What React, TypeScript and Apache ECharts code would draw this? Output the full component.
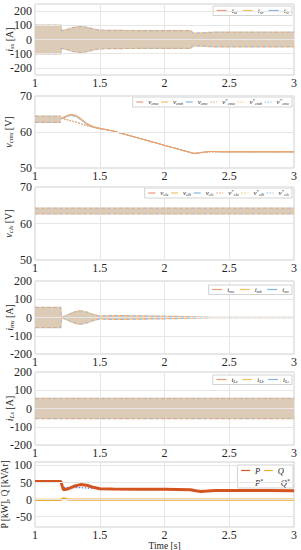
import React, { useEffect, useRef } from "react";
import * as echarts from "echarts";

// ---------------- data ----------------
const xTickValues = [1, 1.5, 2, 2.5, 3];

// panel 1: grid currents envelope
const isTime = [1.0, 1.2, 1.205, 1.25, 1.3, 1.35, 1.4, 1.45, 1.5, 1.6, 1.8, 2.0, 2.2, 2.225, 2.3, 2.4, 2.6, 3.0];
const isUpper = [102, 102, 62, 72, 86, 92, 86, 74, 66, 64, 63, 62, 62, 45, 48, 52, 52, 52];
const isLower = [-102, -102, -62, -72, -86, -92, -86, -74, -66, -64, -63, -62, -62, -45, -48, -52, -52, -52];
const isTicks = [-200, -100, 0, 100, 200];

// panel 2: capacitor voltages (upper arm)
const vcmBandTime = [1.0, 1.2];
const vcmBandLower = [62.7, 62.7];
const vcmBandUpper = [64.4, 64.4];
const vcmTime = [1.2, 1.25, 1.28, 1.32, 1.36, 1.4, 1.45, 1.5, 1.6, 1.8, 2.0, 2.2, 2.23, 2.27, 2.35, 2.45, 2.7, 3.0];
const vcmA = [63.8, 64.6, 64.9, 64.6, 63.6, 62.4, 61.5, 61.0, 60.3, 58.3, 56.3, 54.3, 54.0, 54.2, 54.6, 54.5, 54.5, 54.5];
const vcmB = [63.7, 64.5, 64.8, 64.4, 63.4, 62.2, 61.4, 61.0, 60.3, 58.3, 56.3, 54.3, 54.0, 54.2, 54.6, 54.5, 54.5, 54.5];
const vcmC = [63.6, 64.3, 64.6, 64.2, 63.2, 62.1, 61.3, 60.9, 60.3, 58.3, 56.3, 54.3, 54.0, 54.2, 54.6, 54.5, 54.5, 54.5];
const vcmRef = [63.8, 63.4, 63.1, 62.7, 62.2, 61.8, 61.3, 61.0, 60.3, 58.3, 56.3, 54.3, 54.1, 54.3, 54.5, 54.5, 54.5, 54.5];
const vTicks = [50, 60, 70];

// panel 3: capacitor voltages (lower arm)
const vclTime = [1.0, 3.0];
const vclLower = [62.6, 62.6];
const vclUpper = [64.2, 64.2];

// panel 4: circulating currents envelope
const imTime = [1.0, 1.2, 1.205, 1.23, 1.28, 1.33, 1.36, 1.4, 1.45, 1.5, 1.55, 1.6, 1.7, 1.8, 1.9, 2.0, 2.1, 2.2, 2.3, 2.4, 3.0];
const imUpper = [55, 55, 2, 8, 24, 36, 37, 30, 17, 8, 9, 11, 10, 9, 8, 7, 6, 4, 2, 0.8, 0.5];
const imLower = [-55, -55, -2, -8, -24, -36, -37, -30, -17, -8, -9, -11, -10, -9, -8, -7, -6, -4, -2, -0.8, -0.5];
const iTicks = [-200, -100, 0, 100, 200];

// panel 5: load currents envelope
const ilTime = [1.0, 3.0];
const ilUpper = [55, 55];
const ilLower = [-55, -55];

// panel 6: powers
const pqTime = [1.0, 1.2, 1.21, 1.22, 1.25, 1.3, 1.35, 1.4, 1.45, 1.5, 1.6, 1.8, 2.0, 2.2, 2.24, 2.28, 2.33, 2.4, 2.6, 2.8, 3.0];
const pVals = [53, 53, 40, 29, 31, 39, 44, 42, 36, 32, 31, 30, 30, 29, 26, 24, 25, 27, 27, 27, 26];
const pRef = [53, 53, 38, 36, 35, 35, 35, 34, 33, 32, 31, 30, 30, 29, 27, 25, 25, 27, 27, 27, 26];
const qVals = [-1, -1, 2, 4, 1, 0, 0, 0, 0, 0, 0, 0, 0, 0, 0, 0, 0, 0, 0, 0, 0];
const qRef = [0, 0, 0, 0, 0, 0, 0, 0, 0, 0, 0, 0, 0, 0, 0, 0, 0, 0, 0, 0, 0];
const pqTicks = [-50, 0, 50, 100];

// ---------------- styling ----------------
const FONT = "'Liberation Serif', 'DejaVu Serif', 'Times New Roman', serif";
const PHASE = ["#efa286", "#f3cb7c", "#8fbfe7"];
const LINE_PHASE = ["#ec9a76", "#f0c264", "#82b6e4"];
const BAND = "#dccbb6";
const GRIDLINE = "#e6e6e6";
const TEXT = "#262626";

const legendLabels: Record<string, string> = {
  isa: "{m|i}{s|s}{ss|a}",
  isb: "{m|i}{s|s}{ss|b}",
  isc: "{m|i}{s|s}{ss|c}",
  vcma: "{m|v}{s|cm}{ss|a}",
  vcmb: "{m|v}{s|cm}{ss|b}",
  vcmc: "{m|v}{s|cm}{ss|c}",
  vcmra: "{m|v}{sup|*}{s|cm}{ss|a}",
  vcmrb: "{m|v}{sup|*}{s|cm}{ss|b}",
  vcmrc: "{m|v}{sup|*}{s|cm}{ss|c}",
  vcla: "{m|v}{s|cl}{ss|a}",
  vclb: "{m|v}{s|cl}{ss|b}",
  vclc: "{m|v}{s|cl}{ss|c}",
  vclra: "{m|v}{sup|*}{s|cl}{ss|a}",
  vclrb: "{m|v}{sup|*}{s|cl}{ss|b}",
  vclrc: "{m|v}{sup|*}{s|cl}{ss|c}",
  ima: "{m|i}{s|m}{ss|a}",
  imb: "{m|i}{s|m}{ss|b}",
  imc: "{m|i}{s|m}{ss|c}",
  ila: "{m|i}{s|L}{ss|a}",
  ilb: "{m|i}{s|L}{ss|b}",
  ilc: "{m|i}{s|L}{ss|c}",
  P: "{m|P}",
  Q: "{m|Q}",
  Pref: "{m|P}{sup|*}",
  Qref: "{m|Q}{sup|*}",
};

const legendRich = {
  m: { fontFamily: FONT, fontSize: 7, fontStyle: "italic", lineHeight: 8, color: TEXT },
  s: { fontFamily: FONT, fontSize: 4.5, fontStyle: "italic", lineHeight: 4, verticalAlign: "bottom", color: TEXT },
  ss: { fontFamily: FONT, fontSize: 3.5, fontStyle: "italic", lineHeight: 2, verticalAlign: "bottom", color: TEXT },
  sup: { fontFamily: FONT, fontSize: 5, lineHeight: 4, verticalAlign: "top", color: TEXT },
};

const legendRichBig = {
  m: { fontFamily: FONT, fontSize: 8.5, fontStyle: "italic", lineHeight: 9, color: TEXT },
  sup: { fontFamily: FONT, fontSize: 6, lineHeight: 4, verticalAlign: "top", color: TEXT },
};

const nameRich = {
  m: { fontFamily: FONT, fontSize: 10, fontStyle: "italic", lineHeight: 12, color: TEXT },
  s: { fontFamily: FONT, fontSize: 7, fontStyle: "italic", lineHeight: 6, verticalAlign: "bottom", color: TEXT },
  ss: { fontFamily: FONT, fontSize: 5.5, fontStyle: "italic", lineHeight: 3, verticalAlign: "bottom", color: TEXT },
  n: { fontFamily: FONT, fontSize: 10, lineHeight: 12, color: TEXT },
  p: { fontFamily: FONT, fontSize: 9.5, lineHeight: 12, color: TEXT },
};

const pairs = (t: number[], v: number[]) => t.map((x, i) => [x, v[i]]);

// filled envelope band drawn as a polygon through the axes' scales
function bandSeries(idx: number, t: number[], lo: number[], hi: number[]) {
  return {
    type: "custom", xAxisIndex: idx, yAxisIndex: idx, silent: true, z: 2, clip: true,
    data: t.map((x, i) => [x, lo[i], hi[i]]),
    encode: { x: 0, y: [1, 2] },
    renderItem: (params: any, api: any) => {
      if (params.dataIndex !== 0) return null;
      const top = t.map((x, i) => api.coord([x, hi[i]]));
      const bot = t.map((x, i) => api.coord([x, lo[i]])).reverse();
      return { type: "polygon", shape: { points: [...top, ...bot] }, style: { fill: BAND } };
    },
  };
}

function edgeSeries(idx: number, t: number[], lo: number[], hi: number[], names: string[]) {
  const out: any[] = [];
  names.forEach((n, k) => {
    [lo, hi].forEach((arr) =>
      out.push({
        type: "line", name: n, xAxisIndex: idx, yAxisIndex: idx, data: pairs(t, arr), symbol: "none", silent: true, z: 3,
        itemStyle: { color: PHASE[k] },
        lineStyle: { color: PHASE[k], width: 1.2, type: [2, 4], dashOffset: k * 2 },
      })
    );
  });
  return out;
}

function gridLineSeries(idx: number, ticks: number[]) {
  return {
    type: "line", xAxisIndex: idx, yAxisIndex: idx, data: [], silent: true, z: 1,
    markLine: {
      silent: true, symbol: ["none", "none"], label: { show: false }, animation: false,
      lineStyle: { color: GRIDLINE, width: 1, type: "solid" },
      data: ticks.map((v) => ({ yAxis: v })),
    },
  };
}

function lineSeries(idx: number, name: string, t: number[], v: number[], color: string, width: number, type: any, z = 4) {
  return {
    type: "line", name, xAxisIndex: idx, yAxisIndex: idx, data: pairs(t, v), symbol: "none", silent: true, z,
    itemStyle: { color },
    lineStyle: { color, width, type },
  };
}

function legendDef(names: string[], styles: any[], right: number, top: number, opts: any = {}) {
  return {
    show: true, selectedMode: false, right, top, orient: "horizontal",
    itemWidth: 7, itemHeight: 6, itemGap: 2, padding: [1, 3, 1, 3],
    backgroundColor: "#ffffff", borderColor: "#c8c8c8", borderWidth: 0.8,
    textStyle: { fontFamily: FONT, fontSize: 7, color: TEXT, rich: opts.rich || legendRich },
    formatter: (n: string) => legendLabels[n] || n,
    data: names.map((n, i) => ({
      name: n,
      lineStyle: styles[i],
      itemStyle: { color: styles[i].color, opacity: 0, borderWidth: 0 },
      textStyle: { color: TEXT },
    })),
    ...opts.extra,
  };
}

function buildOption() {
  const gridBoxes = [
    { top: 4, height: 71 },
    { top: 96, height: 72 },
    { top: 187, height: 73 },
    { top: 281, height: 73 },
    { top: 372, height: 73 },
    { top: 462, height: 65 },
  ];
  const yDefs = [
    { min: -250, max: 250, step: 50, ticks: isTicks, name: "{m|i}{s|s}{ss|x} {n|[A]}", gap: 20 },
    { min: 50, max: 70, step: 10, ticks: vTicks, name: "{m|v}{s|cm}{ss|x} {n|[V]}", gap: 21 },
    { min: 50, max: 70, step: 10, ticks: vTicks, name: "{m|v}{s|cl}{ss|x} {n|[V]}", gap: 21 },
    { min: -200, max: 200, step: 100, ticks: iTicks, name: "{m|i}{s|m}{ss|x} {n|[A]}", gap: 20 },
    { min: -200, max: 200, step: 100, ticks: iTicks, name: "{m|i}{s|L}{ss|x} {n|[A]}", gap: 20 },
    { min: -80, max: 110, step: 10, ticks: pqTicks, name: "{p|P [kW], Q [kVAr]}", gap: 24 },
  ];

  const grid = gridBoxes.map((g) => ({
    ...g, left: 35, width: 259, containLabel: false, outerBoundsMode: "none",
    show: true, borderColor: "#c4c4c4", borderWidth: 0.8, backgroundColor: "#ffffff",
  }));

  const xAxis = gridBoxes.map((_, i) => ({
    type: "value", gridIndex: i, min: 1, max: 3, interval: 0.5,
    axisLine: { show: false }, axisTick: { show: false },
    splitLine: { show: true, lineStyle: { color: GRIDLINE, width: 1 } },
    axisLabel: {
      fontFamily: FONT, fontSize: 12, color: TEXT, margin: 2,
      formatter: (v: number) => (xTickValues.some((t) => Math.abs(t - v) < 1e-6) ? String(v) : ""),
    },
    ...(i === 5
      ? {
          name: "Time [s]", nameLocation: "middle", nameGap: 13.5, nameMoveOverlap: false,
          nameTextStyle: { fontFamily: FONT, fontSize: 9.5, color: TEXT },
        }
      : {}),
  }));

  const yAxis = yDefs.map((d, i) => ({
    type: "value", gridIndex: i, min: d.min, max: d.max, interval: d.step,
    axisLine: { show: false }, axisTick: { show: false }, splitLine: { show: false },
    axisLabel: {
      fontFamily: FONT, fontSize: 12, color: TEXT, margin: 3,
      formatter: (v: number) => (d.ticks.some((t) => Math.abs(t - v) < 1e-6) ? String(v) : ""),
    },
    name: d.name, nameLocation: "middle", nameGap: d.gap, nameRotate: 90, nameMoveOverlap: false,
    nameTextStyle: { fontFamily: FONT, fontSize: 10, color: TEXT, rich: nameRich },
  }));

  const solid = (c: string) => ({ color: c, width: 1.2, type: "solid", opacity: 1 });
  const dotted = (c: string) => ({ color: c, width: 1.2, type: [1.5, 1.5], opacity: 1 });

  const legend = [
    legendDef(["isa", "isb", "isc"], LINE_PHASE.map(solid), 9, 6, { extra: { itemWidth: 10, itemGap: 5 } }),
    legendDef(["vcma", "vcmb", "vcmc", "vcmra", "vcmrb", "vcmrc"], [...LINE_PHASE.map(solid), ...LINE_PHASE.map(dotted)], 9, 97),
    legendDef(["vcla", "vclb", "vclc", "vclra", "vclrb", "vclrc"], [...LINE_PHASE.map(solid), ...LINE_PHASE.map(dotted)], 9, 188),
    legendDef(["ima", "imb", "imc"], LINE_PHASE.map(solid), 9, 285, { extra: { itemWidth: 10, itemGap: 5 } }),
    legendDef(["ila", "ilb", "ilc"], LINE_PHASE.map(solid), 9, 375, { extra: { itemWidth: 10, itemGap: 4 } }),
    legendDef(
      ["P", "Q", "Pref", "Qref"],
      [solid("#d4541f"), solid("#eeaa2a"), dotted("#5b6fe0"), dotted("#e27de6")],
      8, 465,
      { rich: legendRichBig, extra: { width: 58, itemWidth: 9, itemGap: 3, textStyle: { fontFamily: FONT, fontSize: 8.5, color: TEXT, rich: legendRichBig } } }
    ),
  ];

  const series: any[] = [
    // grid lines
    gridLineSeries(0, isTicks),
    gridLineSeries(1, vTicks),
    gridLineSeries(2, vTicks),
    gridLineSeries(3, iTicks),
    gridLineSeries(4, iTicks),
    gridLineSeries(5, pqTicks),
    // panel 1
    bandSeries(0, isTime, isLower, isUpper),
    ...edgeSeries(0, isTime, isLower, isUpper, ["isa", "isb", "isc"]),
    // panel 2
    bandSeries(1, vcmBandTime, vcmBandLower, vcmBandUpper),
    ...edgeSeries(1, vcmBandTime, vcmBandLower, vcmBandUpper, ["vcma", "vcmb", "vcmc"]),
    lineSeries(1, "vcmrc", vcmTime, vcmRef, LINE_PHASE[2], 1, [1.5, 1.5]),
    lineSeries(1, "vcmc", vcmTime, vcmC, LINE_PHASE[2], 1, "solid"),
    lineSeries(1, "vcmb", vcmTime, vcmB, LINE_PHASE[1], 1, "solid"),
    lineSeries(1, "vcma", vcmTime, vcmA, LINE_PHASE[0], 1, "solid"),
    lineSeries(1, "vcmrb", vcmTime, vcmRef, LINE_PHASE[1], 1, [1.5, 1.5]),
    lineSeries(1, "vcmra", vcmTime, vcmRef, LINE_PHASE[0], 1, [1.5, 1.5]),
    // panel 3
    bandSeries(2, vclTime, vclLower, vclUpper),
    ...edgeSeries(2, vclTime, vclLower, vclUpper, ["vcla", "vclb", "vclc"]),
    lineSeries(2, "vclra", vclTime, vclUpper, LINE_PHASE[0], 0, [1.5, 1.5]),
    lineSeries(2, "vclrb", vclTime, vclUpper, LINE_PHASE[1], 0, [1.5, 1.5]),
    lineSeries(2, "vclrc", vclTime, vclUpper, LINE_PHASE[2], 0, [1.5, 1.5]),
    // panel 4
    bandSeries(3, imTime, imLower, imUpper),
    ...edgeSeries(3, imTime, imLower, imUpper, ["ima", "imb", "imc"]),
    // panel 5
    bandSeries(4, ilTime, ilLower, ilUpper),
    ...edgeSeries(4, ilTime, ilLower, ilUpper, ["ila", "ilb", "ilc"]),
    // panel 6
    lineSeries(5, "Qref", pqTime, qRef, "#e27de6", 1, [1.5, 1.5]),
    lineSeries(5, "Q", pqTime, qVals, "#eeaa2a", 2.2, "solid"),
    lineSeries(5, "Pref", pqTime, pRef, "#5b6fe0", 1.2, [1.5, 1.5]),
    lineSeries(5, "P", pqTime, pVals, "#d4541f", 3, "solid"),
  ];

  return { animation: false, backgroundColor: "#ffffff", grid, xAxis, yAxis, legend, series };
}

export default function App() {
  const ref = useRef<HTMLDivElement>(null);
  useEffect(() => {
    if (!ref.current) return;
    const chart = echarts.init(ref.current, null, { renderer: "svg" });
    chart.setOption(buildOption() as any);
    return () => chart.dispose();
  }, []);
  return (
    <div
      ref={ref}
      style={{ position: "fixed", left: 0, top: 0, width: 301, height: 550, background: "#ffffff" }}
    />
  );
}
